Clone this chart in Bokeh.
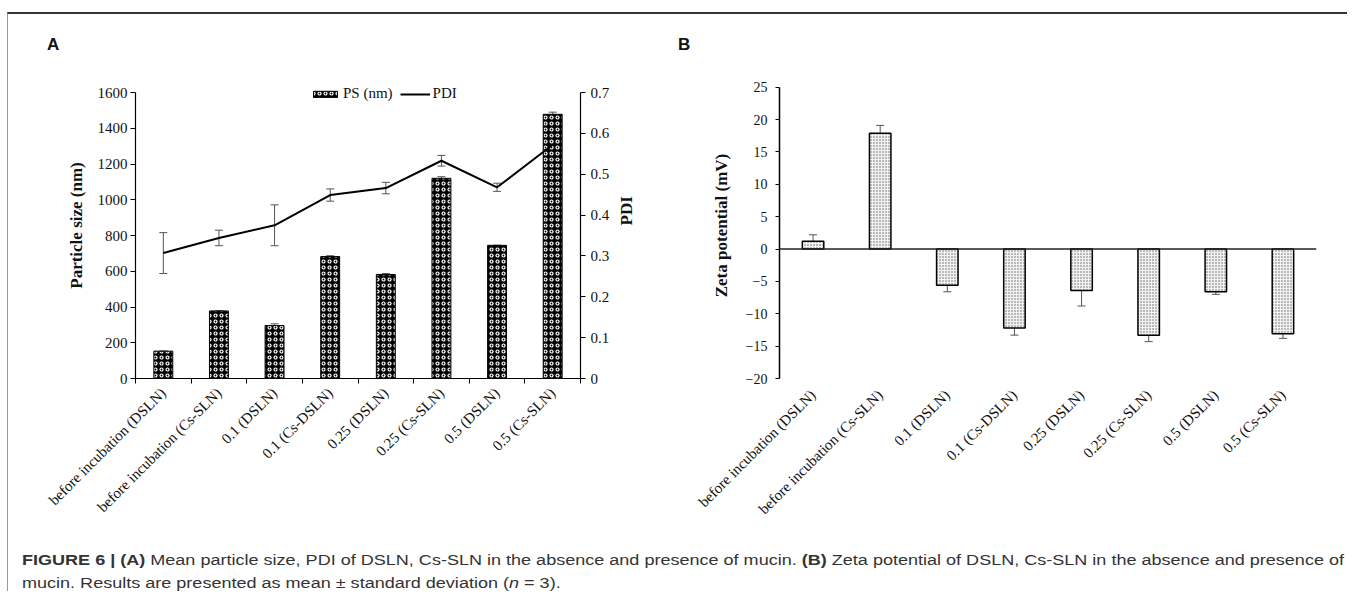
import math
from bokeh.plotting import figure
from bokeh.models import (Range1d, LinearAxis, FixedTicker, Whisker, ColumnDataSource,
                          Legend, LegendItem, Span, Div, TeeHead)
from bokeh.layouts import row, column
from bokeh.embed import file_html
from bokeh.resources import INLINE

# ---------------- data ----------------
categories = ["before incubation (DSLN)", "before incubation (Cs-SLN)", "0.1 (DSLN)",
              "0.1 (Cs-DSLN)", "0.25 (DSLN)", "0.25 (Cs-SLN)", "0.5 (DSLN)", "0.5 (Cs-SLN)"]
ps_nm = [153, 378, 296, 682, 582, 1120, 745, 1478]
ps_err = [0, 0, 10, 5, 5, 9, 0, 12]
pdi = [0.307, 0.344, 0.375, 0.449, 0.466, 0.533, 0.468, 0.572]
pdi_err = [0.050, 0.019, 0.050, 0.015, 0.014, 0.013, 0.010, 0.010]
zeta_mv = [1.2, 17.9, -5.6, -12.2, -6.4, -13.3, -6.6, -13.1]
zeta_err = [1.0, 1.2, 1.0, 1.1, 2.4, 1.0, 0.4, 0.7]
ps_ticks = [0, 200, 400, 600, 800, 1000, 1200, 1400, 1600]
pdi_ticks = [0, 0.1, 0.2, 0.3, 0.4, 0.5, 0.6, 0.7]
zeta_ticks = [-20, -15, -10, -5, 0, 5, 10, 15, 20, 25]

xs = list(range(1, len(categories) + 1))
bounds = [i + 0.5 for i in range(0, len(categories) + 1)]
overrides = {x: c for x, c in zip(xs, categories)}

SERIF = "Liberation Serif"
SANS = "Liberation Sans"

# both frames share top (y=72) and bottom (y=378); axes are limited with bounds
FRAME_PX = 306
A_AXIS_PX = 286
B_AXIS_PX = 291.3
ps_max, pdi_max = 1600, 0.7
z_min, z_max = -20, 25
ps_end = ps_max * FRAME_PX / A_AXIS_PX
pdi_end = pdi_max * FRAME_PX / A_AXIS_PX
z_end = z_min + (z_max - z_min) * FRAME_PX / B_AXIS_PX

FIG_H = 491

# ---------------- panel A ----------------
pA = figure(width=660, height=FIG_H, x_range=Range1d(0.5, 8.5), y_range=Range1d(0, ps_end),
            output_backend="svg", toolbar_location=None,
            min_border_left=127, min_border_right=88, min_border_top=12, min_border_bottom=173)
pA.outline_line_color = None
pA.grid.visible = False

xa = pA.xaxis[0]
xa.ticker = FixedTicker(ticks=xs, minor_ticks=bounds)
xa.major_label_overrides = overrides
xa.major_tick_out = 0
xa.major_tick_in = 0
xa.minor_tick_out = 5
xa.minor_tick_in = 0
xa.minor_tick_line_color = "black"
xa.axis_line_color = "black"
xa.axis_line_width = 1.2
xa.major_label_orientation = math.pi / 4
xa.major_label_text_font = SERIF
xa.major_label_text_font_size = "15px"
xa.major_label_text_color = "#111"
xa.major_label_standoff = 7

ya = pA.yaxis[0]
ya.ticker = FixedTicker(ticks=ps_ticks)
ya.bounds = (0, ps_max)
ya.major_tick_out = 5
ya.major_tick_in = 0
ya.minor_tick_line_color = None
ya.axis_line_color = "black"
ya.axis_line_width = 1.2
ya.major_label_text_font = SERIF
ya.major_label_text_font_size = "15px"
ya.major_label_text_color = "#111"
ya.major_label_standoff = 3
ya.axis_label = "Particle size (nm)"
ya.axis_label_text_font = SERIF
ya.axis_label_text_font_style = "bold"
ya.axis_label_text_font_size = "17px"
ya.axis_label_text_color = "#111"
ya.axis_label_standoff = 9

pA.extra_y_ranges = {"pdi": Range1d(0, pdi_end)}
ra = LinearAxis(y_range_name="pdi", ticker=FixedTicker(ticks=pdi_ticks))
ra.bounds = (0, pdi_max)
ra.major_label_overrides = {0: "0"}
ra.major_tick_out = 5
ra.major_tick_in = 0
ra.minor_tick_line_color = None
ra.axis_line_color = "black"
ra.axis_line_width = 1.2
ra.major_label_text_font = SERIF
ra.major_label_text_font_size = "15px"
ra.major_label_text_color = "#111"
ra.major_label_standoff = 5
ra.axis_label = "PDI"
ra.axis_label_orientation = math.pi / 2
ra.axis_label_text_font = SERIF
ra.axis_label_text_font_style = "bold"
ra.axis_label_text_font_size = "17px"
ra.axis_label_text_color = "#111"
ra.axis_label_standoff = 14
pA.add_layout(ra, "right")

srcA = ColumnDataSource(dict(x=xs, top=ps_nm,
                             up=[v + e for v, e in zip(ps_nm, ps_err)],
                             lo=[v - e for v, e in zip(ps_nm, ps_err)]))
bars_a = pA.vbar(x="x", top="top", width=0.34, source=srcA, fill_color="black",
                 line_color="black", line_width=1, hatch_pattern="ring",
                 hatch_color="white", hatch_scale=6, hatch_weight=1.2)
pA.add_layout(Whisker(base="x", upper="up", lower="lo", source=srcA, line_color="#555",
                      line_width=1,
                      upper_head=TeeHead(size=8, line_color="#555", line_width=1),
                      lower_head=TeeHead(size=8, line_color="#555", line_width=1)))

srcP = ColumnDataSource(dict(x=xs, y=pdi,
                             up=[v + e for v, e in zip(pdi, pdi_err)],
                             lo=[v - e for v, e in zip(pdi, pdi_err)]))
line_a = pA.line(x="x", y="y", source=srcP, y_range_name="pdi", line_color="black", line_width=2)
pA.add_layout(Whisker(base="x", upper="up", lower="lo", source=srcP, y_range_name="pdi",
                      line_color="#555", line_width=1,
                      upper_head=TeeHead(size=8, line_color="#555", line_width=1),
                      lower_head=TeeHead(size=8, line_color="#555", line_width=1)))

leg = Legend(items=[LegendItem(label="PS (nm)", renderers=[bars_a]),
                    LegendItem(label="PDI", renderers=[line_a])],
             orientation="horizontal", location=(175, 276), border_line_color=None,
             background_fill_alpha=0, padding=0, margin=0, spacing=7,
             glyph_width=30, glyph_height=8, label_height=14, label_standoff=3,
             label_text_font=SERIF, label_text_font_size="15px", label_text_color="#111")
pA.add_layout(leg)

# ---------------- panel B ----------------
pB = figure(width=679, height=FIG_H, x_range=Range1d(0.5, 8.5), y_range=Range1d(z_min, z_end),
            output_backend="svg", toolbar_location=None,
            min_border_left=111, min_border_right=31, min_border_top=12, min_border_bottom=173)
pB.outline_line_color = None
pB.grid.visible = False

xb = pB.xaxis[0]
xb.ticker = FixedTicker(ticks=xs)
xb.major_label_overrides = overrides
xb.axis_line_color = None
xb.major_tick_line_color = None
xb.minor_tick_line_color = None
xb.major_label_orientation = math.pi / 4
xb.major_label_text_font = SERIF
xb.major_label_text_font_size = "15px"
xb.major_label_text_color = "#111"
xb.major_label_standoff = 8

yb = pB.yaxis[0]
yb.ticker = FixedTicker(ticks=zeta_ticks)
yb.bounds = (z_min, z_max)
yb.major_tick_out = 4
yb.major_tick_in = 0
yb.minor_tick_line_color = None
yb.axis_line_color = "black"
yb.axis_line_width = 1.5
yb.major_label_text_font = SERIF
yb.major_label_text_font_size = "14px"
yb.major_label_text_color = "#111"
yb.major_label_standoff = 8
yb.axis_label = "Zeta potential (mV)"
yb.axis_label_text_font = SERIF
yb.axis_label_text_font_style = "bold"
yb.axis_label_text_font_size = "17px"
yb.axis_label_text_color = "#111"
yb.axis_label_standoff = 12

srcZ = ColumnDataSource(dict(x=xs, top=zeta_mv,
                             up=[v + e for v, e in zip(zeta_mv, zeta_err)],
                             lo=[v - e for v, e in zip(zeta_mv, zeta_err)]))
pB.vbar(x="x", top="top", bottom=0, width=0.32, source=srcZ, fill_color="#f2f2f2",
        line_color="black", line_width=1.5, hatch_pattern="dot", hatch_color="#666",
        hatch_scale=3, hatch_weight=1)
pB.add_layout(Span(location=0, dimension="width", line_color="#222", line_width=1.5))
pB.add_layout(Whisker(base="x", upper="up", lower="lo", source=srcZ, line_color="#555",
                      line_width=1,
                      upper_head=TeeHead(size=8, line_color="#555", line_width=1),
                      lower_head=TeeHead(size=8, line_color="#555", line_width=1)))

# ---------------- panel letters ----------------
letters_html = ('<div style="position:relative;height:46px;width:1339px;'
                'font-family:\'Liberation Sans\',Arial,sans-serif;font-weight:bold;'
                'font-size:17px;line-height:17px;color:#111;">'
                '<span style="position:absolute;left:39px;top:22px;">A</span>'
                '<span style="position:absolute;left:670px;top:22px;">B</span></div>')
letters = Div(text=letters_html, width=1339, height=46, margin=0)

# ---------------- caption ----------------
line1 = ('<b>FIGURE 6 | (A)</b> Mean particle size, PDI of DSLN, Cs-SLN in the absence and '
         'presence of mucin. <b>(B)</b> Zeta potential of DSLN, Cs-SLN in the absence and presence of')
line2 = 'mucin. Results are presented as mean &plusmn; standard deviation (<i>n</i> = 3).'
cap_html = ('<div style="padding-left:14px;padding-top:2px;">'
            '<div style="font-family:\'Liberation Sans\',Arial,sans-serif;font-size:14px;'
            'color:#333;white-space:nowrap;transform:scaleX(1.288);transform-origin:0 0;">'
            '<div style="line-height:14px;">' + line1 + '</div>'
            '<div style="line-height:14px;margin-top:9px;">' + line2 + '</div></div></div>')
cap = Div(text=cap_html, width=1339, height=40, margin=0)

layout = column(letters, row(pA, pB), cap,
                styles={"border-top": "2px solid #333", "border-left": "1px solid #999",
                        "margin-top": "12px", "margin-left": "7px"})

open("out.html", "w").write(file_html(layout, INLINE))
